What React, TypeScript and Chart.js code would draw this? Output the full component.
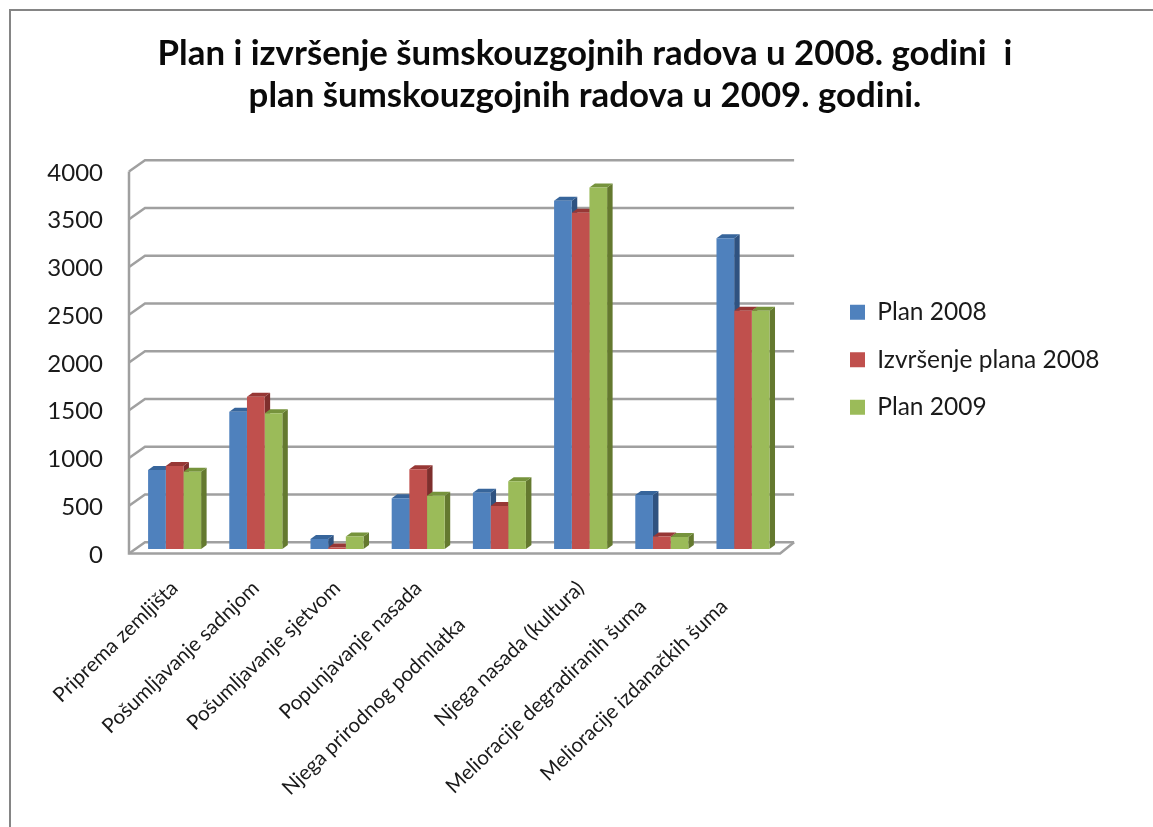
import React, { useEffect, useRef } from "react";
import { Chart, registerables } from "chart.js";

Chart.register(...registerables);

const categories = [
  "Priprema zemljišta",
  "Pošumljavanje sadnjom",
  "Pošumljavanje sjetvom",
  "Popunjavanje nasada",
  "Njega prirodnog podmlatka",
  "Njega nasada (kultura)",
  "Melioracije degradiranih šuma",
  "Melioracije izdanačkih šuma",
];
const plan2008 = [827, 1438, 105, 531, 590, 3647, 565, 3255];
const izvrsenje2008 = [869, 1595, 15, 835, 450, 3522, 130, 2495];
const plan2009 = [810, 1422, 130, 558, 709, 3785, 126, 2495];
const titleLines = [
  "Plan i izvršenje šumskouzgojnih radova u 2008. godini  i",
  "plan šumskouzgojnih radova u 2009. godini.",
];
const seriesNames = ["Plan 2008", "Izvršenje plana 2008", "Plan 2009"];
const frontColors = ["#4F81BD", "#C0504D", "#9BBB59"];
const sideColors = ["#2F5280", "#7E2F2D", "#64792F"];
const topColors = ["#37659B", "#973735", "#76933C"];
// Excel pulled these labels back along their slant.
const labelTrailingSpaces = [0, 0, 0, 0, 10, 0, 5, 5];

const FONT = "Lato, Carlito, sans-serif";
const GRID = "#A0A0A0";
const DEPTH_X = 5.5;
const DEPTH_Y = 4;
const BAR_SHIFT = -6;

const frame3d = {
  id: "frame3d",
  beforeDraw(chart: any) {
    const { ctx, width, height } = chart;
    ctx.save();
    ctx.fillStyle = "#FFFFFF";
    ctx.fillRect(0, 0, width, height);
    ctx.strokeStyle = "#858585";
    ctx.lineWidth = 2;
    ctx.beginPath();
    ctx.moveTo(10, height);
    ctx.lineTo(10, 10);
    ctx.lineTo(width, 10);
    ctx.stroke();
    ctx.restore();
  },
  beforeDatasetsDraw(chart: any) {
    const { ctx, chartArea, scales } = chart;
    const y = scales.y;
    const frontX = chartArea.left - 5;
    const backX = chartArea.left + 11;
    const backRight = chartArea.right + 10.5;
    const frontRight = chartArea.right - 3.5;
    ctx.save();
    ctx.strokeStyle = GRID;
    ctx.lineWidth = 2.5;
    for (const t of y.ticks) {
      const p = y.getPixelForValue(t.value);
      ctx.beginPath();
      ctx.moveTo(frontX, p - 1.5);
      ctx.lineTo(backX, p - 12.8);
      ctx.lineTo(backRight, p - 12.8);
      ctx.stroke();
    }
    const y0 = y.getPixelForValue(0);
    const yMax = y.getPixelForValue(y.max);
    ctx.beginPath();
    ctx.moveTo(frontX, yMax - 1.5);
    ctx.lineTo(frontX, y0 - 1.5);
    ctx.lineTo(frontRight, y0 - 1.5);
    ctx.lineTo(backRight, y0 - 12.8);
    ctx.stroke();

    // Side and top faces of the bars, then the native fronts over them.
    ctx.translate(0, BAR_SHIFT);
    chart.data.datasets.forEach((_: any, i: number) => {
      for (const bar of chart.getDatasetMeta(i).data) {
        const hw = bar.width / 2;
        const l = bar.x - hw;
        const r = bar.x + hw;
        ctx.fillStyle = sideColors[i];
        ctx.beginPath();
        ctx.moveTo(r, bar.y);
        ctx.lineTo(r + DEPTH_X, bar.y - DEPTH_Y);
        ctx.lineTo(r + DEPTH_X, bar.base - DEPTH_Y);
        ctx.lineTo(r, bar.base);
        ctx.closePath();
        ctx.fill();
        ctx.fillStyle = topColors[i];
        ctx.beginPath();
        ctx.moveTo(l, bar.y);
        ctx.lineTo(l + DEPTH_X, bar.y - DEPTH_Y);
        ctx.lineTo(r + DEPTH_X, bar.y - DEPTH_Y);
        ctx.lineTo(r, bar.y);
        ctx.closePath();
        ctx.fill();
      }
    });
    ctx.restore();
    ctx.save();
    ctx.translate(0, BAR_SHIFT);
  },
  afterDatasetsDraw(chart: any) {
    chart.ctx.restore();
  },
  afterLayout(chart: any) {
    const legend = chart.legend;
    const w = legend.width;
    const h = legend.height;
    legend.left = 827;
    legend.right = 827 + w;
    legend.top = 277;
    legend.bottom = 277 + h;
    chart.titleBlock.left = 17;
    chart.titleBlock.right = chart.width;
  },
};

export default function App() {
  const ref = useRef<HTMLCanvasElement>(null);
  useEffect(() => {
    const chart = new Chart(ref.current as HTMLCanvasElement, {
      type: "bar",
      data: {
        labels: categories,
        datasets: [plan2008, izvrsenje2008, plan2009].map((values, i) => ({
          label: seriesNames[i],
          data: values,
          backgroundColor: frontColors[i],
          borderWidth: 0,
          categoryPercentage: 0.653,
          barPercentage: 1,
        })),
      },
      options: {
        animation: false,
        responsive: false,
        layout: { padding: { top: 0, left: 0, right: 369.4, bottom: 0 } },
        plugins: {
          tooltip: { enabled: false },
          title: {
            display: true,
            text: titleLines,
            color: "#0A0A0A",
            font: { family: FONT, size: 34.8, weight: "bold", lineHeight: 42 / 34.8 },
            padding: { top: 33, bottom: 56 },
          },
          legend: {
            position: "chartArea",
            align: "start",
            labels: {
              color: "#1A1A1A",
              font: { family: FONT, size: 24.5 },
              boxWidth: 15,
              boxHeight: 15,
              padding: 23,
            },
          },
        },
        scales: {
          x: {
            grid: { display: false },
            border: { display: false },
            afterFit: (s: any) => {
              s.height = 272;
            },
            ticks: {
              autoSkip: false,
              minRotation: 44,
              maxRotation: 44,
              padding: 13,
              color: "#1A1A1A",
              font: { family: FONT, size: 20.5 },
              callback(this: any, v: any, i: number) {
                return this.getLabelForValue(v) + " ".repeat(labelTrailingSpaces[i]);
              },
            },
          },
          y: {
            min: 0,
            max: 4000,
            grid: { display: false, drawTicks: false },
            border: { display: false },
            afterFit: (s: any) => {
              s.width = 134;
            },
            ticks: {
              stepSize: 500,
              padding: 31,
              color: "#1A1A1A",
              font: { family: FONT, size: 24 },
              callback: (v: any) => String(v),
            },
          },
        },
      },
      plugins: [frame3d],
    } as any);
    return () => chart.destroy();
  }, []);
  return (
    <canvas
      ref={ref}
      width={1153}
      height={827}
      style={{ position: "absolute", left: 0, top: 0, display: "block" }}
    />
  );
}
